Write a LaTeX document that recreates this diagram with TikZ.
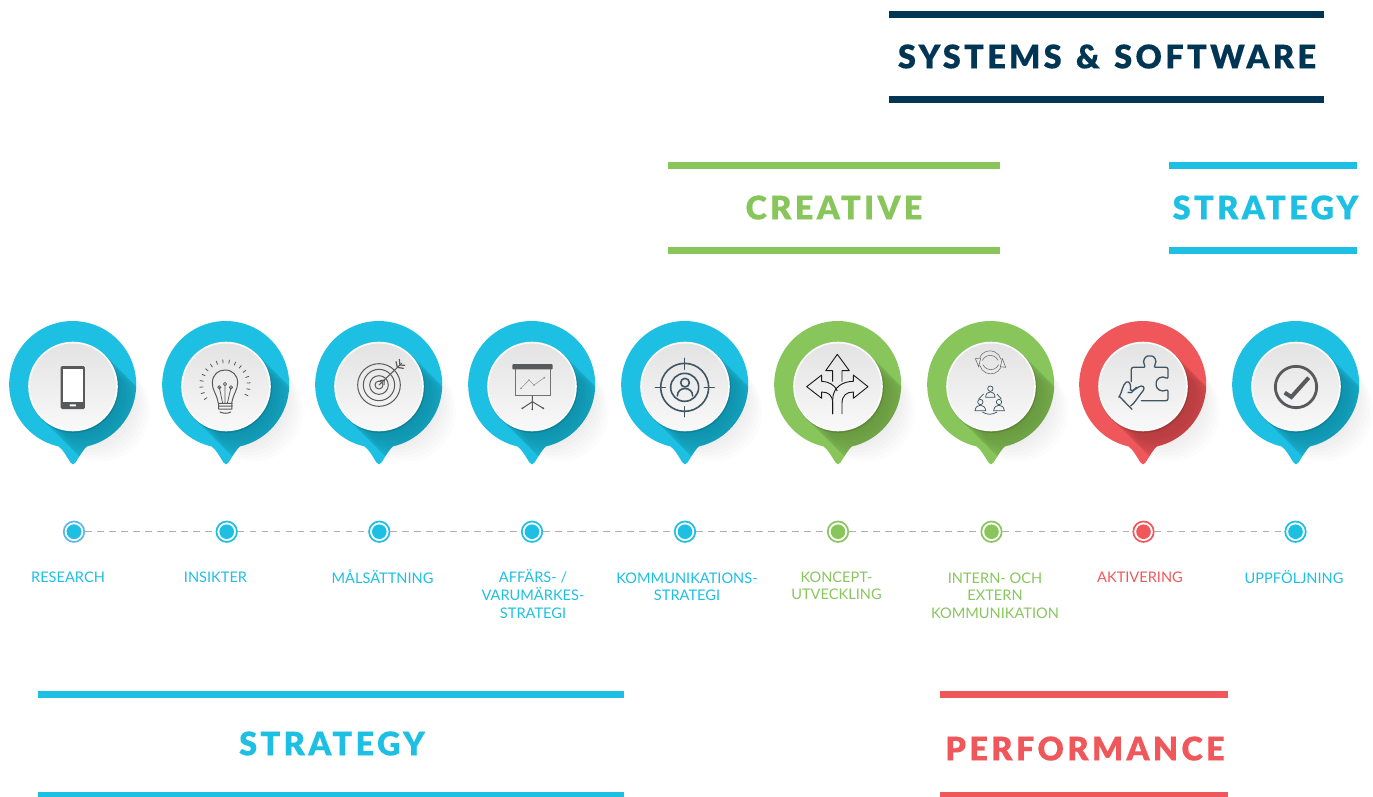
\documentclass[tikz,border=0pt]{standalone}
\usepackage{fontspec}
\setmainfont{Lato}
\newfontfamily\titlefont[LetterSpace=10.2,FakeBold=0.3]{Lato Black}
\usetikzlibrary{calc}
\definecolor{cblue}{HTML}{1DBFE2}
\definecolor{cgreen}{HTML}{88C65C}
\definecolor{cred}{HTML}{F0575B}
\definecolor{cnavy}{HTML}{003654}
\definecolor{cring}{HTML}{5BB8E8}
\definecolor{cicon}{HTML}{58595B}
\definecolor{cslate}{HTML}{3F5563}
\definecolor{cdash}{HTML}{AFAFAF}
\newcommand{\pinoutline}{(-14.6,59.9) arc[start angle=103,end angle=437,radius=63.5] .. controls (11,62) and (7,69) .. (2.5,76) .. controls (1,78.4) and (-1,78.4) .. (-2.5,76) .. controls (-7,69) and (-10,63) .. (-14.6,59.9) -- cycle}
\tikzset{
  titletext/.style={inner sep=0,font=\titlefont\fontsize{32.5}{36}\selectfont},
  steplabel/.style={inner sep=0,anchor=north,align=center,font=\fontsize{14.6}{17.6}\selectfont},
  dotnode/.style={circle,draw=#1,line width=1.7pt,fill=white,minimum size=20.5pt,inner sep=0,
     path picture={\fill[#1] (path picture bounding box.center) circle (7.3);}},
  dashlink/.style={draw=cdash,line width=1.3pt,dash pattern=on 6.5pt off 5.5pt},
  icon/.style={draw=cicon,line width=1pt,line cap=round,line join=round},
  slate/.style={draw=cslate,line width=1.6pt,line cap=round,line join=round},
  zoomA/.style={shift={(0,310)},x=.33333pt,y=-.33333pt},
  zoomB/.style={shift={(460,310)},x=.33333pt,y=-.33333pt},
  zoomC/.style={shift={(913,310)},x=.33333pt,y=-.33333pt},
}
\begin{document}
\begin{tikzpicture}[x=1pt,y=-1pt]
\useasboundingbox (0,0) rectangle (1373,796);
% title bars
\foreach \xa/\xb/\ya/\yb/\col in {889/1324/11/96/cnavy,668/1000/162/247/cgreen,1169/1357/162/247/cblue,38/624/691/792/cblue,940/1228/691/792/cred}{
  \fill[\col] (\xa,\ya) rectangle (\xb,\ya+7);
  \fill[\col] (\xa,\yb) rectangle (\xb,\yb+7);
}
\node[titletext,text=cnavy] (tsys) at (1107,56.5) {SYSTEMS\hspace{3.5pt} \&\hspace{3.5pt} SOFTWARE};
\node[titletext,text=cgreen] (tcre) at (834,207.5) {CREATIVE};
\node[titletext,text=cblue] (tstr) at (1265.5,207.5) {STRATEGY};
\node[titletext,text=cblue] (tstb) at (332,743.5) {STRATEGY};
\node[titletext,text=cred] (tper) at (1085,748.5) {PERFORMANCE};
% pins
\foreach \cx/\col in {73/cblue,226/cblue,379/cblue,532/cblue,685/cblue,838/cgreen,991/cgreen,1143/cred,1296/cblue}{
\begin{scope}[shift={(\cx,386.5)}]
  \foreach \t in {3,6,...,27}{
    \fill[black,opacity=.01] (\t,\t-2) circle (50);
  }
  \fill[\col] \pinoutline;
  \begin{scope}
    \clip \pinoutline;
    \fill[black,opacity=.04] (-31.8,31.8) -- (31.8,-31.8) -- (81.8,18.2) -- (18.2,81.8) -- cycle;
    \foreach \t in {3,6,...,36}{
      \fill[black,opacity=.014] (\t,\t) circle (45);
    }
  \end{scope}
  \fill[black,opacity=.12] (.6,1) circle (45.3);
  \fill[white!97!gray] (0,0) circle (44.8);
  \shade[shading angle=30,top color=white!78!gray,bottom color=white!95!gray] (0,0) circle (43);
\end{scope}
}
% phone
\begin{scope}[zoomA]
  \fill[cicon,rounded corners=1.5pt] (182,168) rectangle (255,297);
  \fill[white] (190,176) rectangle (248,275);
  \fill[white,rounded corners=.5pt] (209,283) rectangle (228,289);
\end{scope}
% bulb
\begin{scope}[zoomA]
  \draw[icon] (655,280) .. controls (650,250) and (636,240) .. (637,218) .. controls (638,193) and (655,180) .. (675,180) .. controls (697,180) and (713,195) .. (713,218) .. controls (713,240) and (700,250) .. (695,280);
  \draw[icon] (655,280) -- (697,280) (656,288) -- (697,288) (657,297) -- (695,297) (660,306) .. controls (670,311) and (685,311) .. (692,306) (656,280) -- (656,297) (696,280) -- (696,297);
  \draw[icon,line width=.8pt] (668,280) -- (658,232) (682,280) -- (693,232) (675,280) -- (675,225);
  \draw[icon,line width=.8pt] (658,232) circle (5) (675,222) circle (5) (693,232) circle (5);
  \foreach \a in {145,160,...,395}{
    \draw[icon,line width=.8pt] ($(675,225)+(\a:66)$) -- ($(675,225)+(\a:76)$);
  }
\end{scope}
% target
\begin{scope}[zoomA]
  \draw[icon] (1137,225) circle (64) circle (47) circle (28) circle (12);
  \draw[icon] (1137,225) -- (1205,160);
  \draw[icon] (1140,212) -- (1153,210) -- (1152,224);
  \draw[icon,line width=1.2pt] (1188,155) -- (1192,172) -- (1210,175) (1198,148) -- (1200,165) -- (1214,166);
\end{scope}
% presentation
\begin{scope}[zoomB]
  \fill[cicon,rounded corners=1pt] (157,162) rectangle (278,178);
  \draw[cicon!85,line width=1pt] (165,178) -- (165,256) -- (270,256) -- (270,178);
  \draw[cicon,line width=1pt] (217,257) -- (217,298) (217,275) -- (187,295) (217,275) -- (250,295);
  \fill[cicon] (187,295) circle (3) (217,298) circle (3) (250,295) circle (3);
  \draw[gray!80,line width=.6pt] (183,235) -- (207,210) -- (222,225) -- (253,203);
  \fill[gray!80] (183,235) circle (3) (207,210) circle (3) (222,225) circle (3) (253,203) circle (3);
\end{scope}
% crosshair person
\begin{scope}[zoomB]
  \draw[slate] (674,232) circle (72);
  \draw[slate] (674,232) circle (42);
  \draw[slate] (674,145) -- (674,178) (674,290) -- (674,320) (586,232) -- (616,232) (733,232) -- (763,232);
  \draw[slate] (675,218) circle (13);
  \draw[slate] (652,258) .. controls (652,228) and (698,228) .. (698,258);
\end{scope}
% three-way arrows
\begin{scope}[zoomB]
  \draw[black!90,line width=.9pt,line join=round] (1118,215) -- (1118,182) -- (1097,182) -- (1132,133) -- (1168,182) -- (1146,182) -- (1146,215);
  \draw[black!90,line width=.9pt,line join=round] (1118,312) -- (1118,280) .. controls (1118,255) and (1105,246) .. (1085,246) -- (1085,265) -- (1040,230) -- (1085,195) -- (1085,214) .. controls (1105,214) and (1125,225) .. (1132,243);
  \draw[black!90,line width=.9pt,line join=round] (1118,312) -- (1118,270) .. controls (1118,230) and (1150,214) .. (1180,214) -- (1180,195) -- (1224,230) -- (1180,265) -- (1180,246) .. controls (1160,246) and (1146,256) .. (1146,280) -- (1146,312);
\end{scope}
% cycle and people
\begin{scope}[zoomC]
  \draw[cicon!90,line width=.55pt] (200,142) arc[start angle=205,end angle=345,radius=34] (268,145) -- (262,170) -- (278,172) -- (268,145);
  \draw[cicon!90,line width=.55pt] (264,172) arc[start angle=25,end angle=165,radius=34] (197,170) -- (187,146) -- (203,144) -- cycle;
  \draw[cicon!90,line width=.55pt] (208,151) arc[start angle=205,end angle=335,radius=26] (257,164) arc[start angle=25,end angle=155,radius=26];
  \draw[cslate,line width=.75pt] (232,236) circle (8) (202,276) circle (8) (258,276) circle (8);
  \draw[cslate,line width=.75pt] (218,262) .. controls (218,240) and (246,240) .. (246,262) -- cycle;
  \draw[cslate,line width=.75pt] (186,302) .. controls (188,280) and (216,280) .. (218,302) -- cycle;
  \draw[cslate,line width=.75pt] (242,302) .. controls (244,280) and (272,280) .. (274,302) -- cycle;
  \draw[cslate,line width=.75pt] (212,252) -- (197,267) (252,252) -- (265,267) (208,306) .. controls (222,315) and (238,315) .. (252,306);
\end{scope}
% puzzle and hand
\begin{scope}[zoomC]
  \draw[slate,line width=1.3pt,rounded corners=2pt] (655,215) -- (655,172) -- (698,172) .. controls (685,150) and (700,138) .. (710,138) .. controls (722,138) and (735,150) .. (722,172) -- (765,172) -- (765,207) .. controls (745,195) and (730,208) .. (730,222) .. controls (730,236) and (745,248) .. (765,238) -- (765,272) -- (685,272);
  \draw[slate,line width=1.3pt] (618,262) .. controls (628,245) and (628,225) .. (640,216) .. controls (650,212) and (655,225) .. (652,240) .. controls (660,248) and (675,228) .. (685,228) .. controls (695,228) and (695,238) .. (688,245) .. controls (675,260) and (665,280) .. (653,288);
  \draw[slate,line width=1.3pt] (618,258) -- (657,298);
  \draw[slate,line width=1.3pt] (645,247) -- (655,248) -- (670,232);
\end{scope}
% check
\begin{scope}[zoomC]
  \draw[cicon,line width=2.8pt] (1149,231) circle (62);
  \draw[cicon,line width=4pt,line join=miter] (1115,248) -- (1135,261) -- (1187,203);
\end{scope}
% timeline
\foreach \n/\x/\col in {1/74/cring,2/226.7/cblue,3/379.3/cblue,4/532/cblue,5/685/cblue,6/838/cgreen,7/991.5/cgreen,8/1143.5/cred,9/1295.5/cblue}{
  \node[dotnode=\col] (d\n) at (\x,531.7) {};
}
\fill[cblue] (d1.center) circle (7.3);
\foreach \a/\b in {1/2,2/3,3/4,4/5,5/6,6/7,7/8,8/9}{
  \draw[dashlink] (d\a) -- (d\b);
}
% labels
\node[steplabel,text=cblue] (l1) at (68,571.5) {RESEARCH};
\node[steplabel,text=cblue] (l2) at (215.5,571.5) {INSIKTER};
\node[steplabel,text=cblue] (l3) at (382.5,569.5) {MÅLSÄTTNING};
\node[steplabel,text=cblue] (l4) at (533,569.8) {AFFÄRS- /\\VARUMÄRKES-\\STRATEGI};
\node[steplabel,text=cblue] (l5) at (687,572.5) {KOMMUNIKATIONS-\\STRATEGI};
\node[steplabel,text=cgreen] (l6) at (836.5,571.5) {KONCEPT-\\UTVECKLING};
\node[steplabel,text=cgreen] (l7) at (995,572.5) {INTERN- OCH\\EXTERN\\KOMMUNIKATION};
\node[steplabel,text=cred] (l8) at (1140,571.5) {AKTIVERING};
\node[steplabel,text=cblue] (l9) at (1294,570) {UPPFÖLJNING};
\end{tikzpicture}
\end{document}
